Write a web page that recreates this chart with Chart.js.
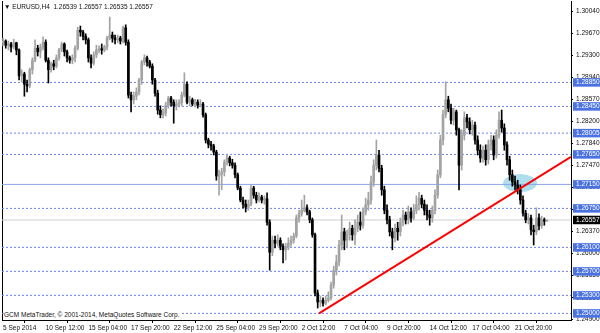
<!DOCTYPE html>
<html><head><meta charset="utf-8">
<script src="https://cdn.jsdelivr.net/npm/chart.js@4"></script>
<style>
body{margin:0;background:#fff;}
#wrap{position:relative;width:600px;height:333px;}
.txt{position:absolute;font:6.5px "Liberation Sans",Arial,sans-serif;color:#111;white-space:nowrap;line-height:8px;}
</style></head><body>
<div id="wrap">
<canvas id="c" width="600" height="333"></canvas>
<div class="txt" style="left:4px;top:3px">▼ EURUSD,H4&nbsp; 1.26539 1.26557 1.26535 1.26557</div>
<div class="txt" style="left:4px;top:311px;background:#fff;padding-right:2px">GCM MetaTrader, © 2001-2014, MetaQuotes Software Corp.</div>
</div>
<script>
// H4 bars, oldest first
const dates = ['5 Sep 2014','10 Sep 12:00','15 Sep 04:00','17 Sep 20:00','22 Sep 12:00','25 Sep 04:00','29 Sep 20:00','2 Oct 12:00','7 Oct 04:00','9 Oct 20:00','14 Oct 12:00','17 Oct 04:00','21 Oct 20:00'];
const dateBars = [0,16,32,48,64,80,96,112,128,144,160,176,192];

const opens = [
1.2951,1.2954,1.2947,1.2949,1.2944,1.2951,1.2939,1.2896,1.2899,1.2882,
1.2879,1.2906,1.2922,1.2942,1.2936,1.2944,1.2952,1.2922,1.2906,1.2916,
1.2912,1.2926,1.2939,1.2949,1.2936,1.2926,1.2922,1.2926,1.2942,1.2972,
1.2969,1.2962,1.2956,1.2926,1.2917,1.2931,1.2939,1.2941,1.2939,1.2944,
1.2959,1.2964,1.2959,1.2956,1.2959,1.2954,1.2976,1.2952,1.2864,1.2856,
1.2862,1.2869,1.2889,1.2919,1.2926,1.2919,1.2912,1.2889,1.2867,1.2839,
1.2831,1.2834,1.2847,1.2859,1.2852,1.2846,1.2849,1.2851,1.2864,1.2882,
1.2852,1.2856,1.2849,1.2852,1.2847,1.2849,1.2831,1.2789,1.2782,1.2779,
1.2769,1.2729,1.2732,1.2736,1.2752,1.2759,1.2751,1.2747,1.2731,1.2709,
1.2689,1.2682,1.2677,1.2682,1.2709,1.2697,1.2689,1.2694,1.2689,1.2691,
1.2652,1.2602,1.2622,1.2617,1.2622,1.2612,1.2606,1.2611,1.2617,1.2622,
1.2629,1.2659,1.2666,1.2672,1.2676,1.2669,1.2656,1.2631,1.2534,1.2519,
1.2522,1.2517,1.2522,1.2526,1.2547,1.2572,1.2586,1.2614,1.2636,1.2622,
1.2631,1.2642,1.2631,1.2642,1.2652,1.2647,1.2669,1.2681,1.2689,1.2719,
1.2747,1.2764,1.2742,1.2706,1.2672,1.2656,1.2636,1.2626,1.2642,1.2636,
1.2652,1.2664,1.2656,1.2669,1.2659,1.2672,1.2681,1.2692,1.2682,1.2672,
1.2664,1.2659,1.2672,1.2697,1.2731,1.2789,1.2831,1.2856,1.2842,1.2822,
1.2836,1.2806,1.2747,1.2797,1.2826,1.2819,1.2806,1.2814,1.2789,1.2772,
1.2759,1.2772,1.2756,1.2781,1.2789,1.2764,1.2797,1.2822,1.2809,1.2781,
1.2756,1.2731,1.2719,1.2714,1.2706,1.2689,1.2667,1.2656,1.2659,1.2639,
1.2636,1.2659,1.2646,1.2656,1.26539];
const highs = [
1.2959,1.2956,1.2954,1.2952,1.2957,1.2952,1.2941,1.2906,1.2902,1.2889,
1.2909,1.2926,1.2956,1.2947,1.2949,1.2961,1.2956,1.2926,1.2919,1.2922,
1.2931,1.2942,1.2952,1.2951,1.2939,1.2929,1.2931,1.2946,1.2977,1.2979,
1.2972,1.2966,1.2959,1.2931,1.2936,1.2947,1.2946,1.2949,1.2947,1.2962,
1.2994,1.2969,1.2964,1.2964,1.2962,1.2979,1.2981,1.2956,1.2869,1.2869,
1.2876,1.2892,1.2922,1.2931,1.2929,1.2922,1.2916,1.2892,1.2872,1.2846,
1.2841,1.2852,1.2862,1.2862,1.2856,1.2856,1.2856,1.2869,1.2901,1.2886,
1.2862,1.2859,1.2857,1.2856,1.2856,1.2852,1.2834,1.2792,1.2787,1.2782,
1.2772,1.2739,1.2742,1.2756,1.2764,1.2762,1.2757,1.2751,1.2734,1.2712,
1.2694,1.2689,1.2689,1.2714,1.2712,1.2702,1.2701,1.2697,1.2696,1.2701,
1.2656,1.2629,1.2629,1.2631,1.2626,1.2616,1.2617,1.2626,1.2629,1.2634,
1.2664,1.2672,1.2689,1.2697,1.2681,1.2672,1.2659,1.2634,1.2539,1.2529,
1.2526,1.2529,1.2536,1.2552,1.2579,1.2597,1.2622,1.2664,1.2642,1.2639,
1.2652,1.2647,1.2656,1.2664,1.2669,1.2676,1.2692,1.2702,1.2729,1.2756,
1.2789,1.2772,1.2747,1.2712,1.2681,1.2662,1.2642,1.2649,1.2652,1.2659,
1.2672,1.2669,1.2679,1.2676,1.2682,1.2696,1.2702,1.2697,1.2689,1.2681,
1.2672,1.2679,1.2706,1.2739,1.2797,1.2839,1.2886,1.2862,1.2849,1.2842,
1.2839,1.2809,1.2806,1.2836,1.2832,1.2826,1.2822,1.2819,1.2796,1.2781,
1.2779,1.2781,1.2789,1.2797,1.2796,1.2806,1.2836,1.2839,1.2816,1.2786,
1.2762,1.2739,1.2729,1.2722,1.2714,1.2696,1.2672,1.2666,1.2664,1.2647,
1.2676,1.2666,1.2662,1.2659,1.26557];
const lows = [
1.2946,1.2942,1.2939,1.2936,1.2941,1.2931,1.2889,1.2886,1.2862,1.2869,
1.2876,1.2899,1.2919,1.2929,1.2926,1.2939,1.2919,1.2884,1.2902,1.2906,
1.2909,1.2922,1.2936,1.2929,1.2919,1.2917,1.2916,1.2919,1.2939,1.2962,
1.2956,1.2949,1.2919,1.2909,1.2914,1.2926,1.2934,1.2932,1.2936,1.2939,
1.2956,1.2952,1.2949,1.2951,1.2949,1.2951,1.2947,1.2859,1.2836,1.2849,
1.2856,1.2864,1.2882,1.2914,1.2912,1.2909,1.2882,1.2862,1.2832,1.2826,
1.2826,1.2829,1.2842,1.2846,1.2817,1.2839,1.2844,1.2846,1.2861,1.2849,
1.2846,1.2846,1.2844,1.2842,1.2844,1.2827,1.2784,1.2776,1.2772,1.2764,
1.2722,1.2697,1.2706,1.2729,1.2747,1.2746,1.2742,1.2726,1.2706,1.2686,
1.2676,1.2669,1.2672,1.2679,1.2692,1.2684,1.2686,1.2684,1.2682,1.2647,
1.2572,1.2596,1.2609,1.2612,1.2606,1.2584,1.2589,1.2606,1.2612,1.2617,
1.2626,1.2652,1.2662,1.2669,1.2664,1.2651,1.2627,1.2529,1.2509,1.2511,
1.2512,1.2514,1.2519,1.2522,1.2542,1.2564,1.2579,1.2606,1.2606,1.2609,
1.2622,1.2622,1.2614,1.2636,1.2639,1.2642,1.2664,1.2672,1.2682,1.2712,
1.2739,1.2736,1.2697,1.2666,1.2649,1.2629,1.2606,1.2619,1.2622,1.2629,
1.2646,1.2649,1.2649,1.2652,1.2656,1.2666,1.2672,1.2676,1.2664,1.2656,
1.2647,1.2652,1.2666,1.2692,1.2726,1.2781,1.2826,1.2836,1.2816,1.2814,
1.2797,1.2706,1.2739,1.2789,1.2809,1.2799,1.2797,1.2782,1.2764,1.2752,
1.2752,1.2747,1.2749,1.2772,1.2756,1.2759,1.2792,1.2802,1.2772,1.2747,
1.2722,1.2712,1.2706,1.2699,1.2682,1.2662,1.2651,1.2649,1.2631,1.2614,
1.2631,1.2639,1.2642,1.2647,1.26535];
const closes = [
1.2954,1.2947,1.2949,1.2944,1.2951,1.2939,1.2896,1.2899,1.2882,1.2879,
1.2906,1.2922,1.2942,1.2936,1.2944,1.2952,1.2922,1.2906,1.2916,1.2912,
1.2926,1.2939,1.2949,1.2936,1.2926,1.2922,1.2926,1.2942,1.2972,1.2969,
1.2962,1.2956,1.2926,1.2917,1.2931,1.2939,1.2941,1.2939,1.2944,1.2959,
1.2964,1.2959,1.2956,1.2959,1.2954,1.2976,1.2952,1.2864,1.2856,1.2862,
1.2869,1.2889,1.2919,1.2926,1.2919,1.2912,1.2889,1.2867,1.2839,1.2831,
1.2834,1.2847,1.2859,1.2852,1.2846,1.2849,1.2851,1.2864,1.2882,1.2852,
1.2856,1.2849,1.2852,1.2847,1.2849,1.2831,1.2789,1.2782,1.2779,1.2769,
1.2729,1.2732,1.2736,1.2752,1.2759,1.2751,1.2747,1.2731,1.2709,1.2689,
1.2682,1.2677,1.2682,1.2709,1.2697,1.2689,1.2694,1.2689,1.2691,1.2652,
1.2602,1.2622,1.2617,1.2622,1.2612,1.2606,1.2611,1.2617,1.2622,1.2629,
1.2659,1.2666,1.2672,1.2676,1.2669,1.2656,1.2631,1.2534,1.2519,1.2522,
1.2517,1.2522,1.2526,1.2547,1.2572,1.2586,1.2614,1.2636,1.2622,1.2631,
1.2642,1.2631,1.2642,1.2652,1.2647,1.2669,1.2681,1.2689,1.2719,1.2747,
1.2764,1.2742,1.2706,1.2672,1.2656,1.2636,1.2626,1.2642,1.2636,1.2652,
1.2664,1.2656,1.2669,1.2659,1.2672,1.2681,1.2692,1.2682,1.2672,1.2664,
1.2659,1.2672,1.2697,1.2731,1.2789,1.2831,1.2856,1.2842,1.2822,1.2836,
1.2806,1.2747,1.2797,1.2826,1.2819,1.2806,1.2814,1.2789,1.2772,1.2759,
1.2772,1.2756,1.2781,1.2789,1.2764,1.2797,1.2822,1.2809,1.2781,1.2756,
1.2731,1.2719,1.2714,1.2706,1.2689,1.2667,1.2656,1.2659,1.2639,1.2636,
1.2659,1.2646,1.2656,1.26539,1.26557];

const priceTicks = [1.30040,1.29670,1.29300,1.28940,1.28570,1.28200,1.27840,1.27470,1.27100,1.26740,1.26370,1.26000,1.25630,1.25260,1.24900];
const dashedLevels = [1.28850,1.28450,1.28005,1.27650,1.26750,1.26100,1.25700,1.25300,1.25000];
const solidLevel = 1.27150;
const lastPrice = 1.26557;
const trendBars = [118.5, 213];
const trendPrices = [1.2500, 1.2761];
const markBar = 193.9, markPrice = 1.27173;

const FONT = 'Liberation Sans, Arial, sans-serif';
const UP = '#a3a3a3', DOWN = '#000000';
const X_MIN = -0.4, X_MAX = 213;

const bars = closes.map((_, i) => i);
const candleColor = bars.map(i => closes[i] >= opens[i] ? UP : DOWN);
const hLine = v => [{x: X_MIN, y: v}, {x: X_MAX, y: v}];

const levelSets = dashedLevels.map(v => ({
  type:'line', data:hLine(v), borderColor:'#6c86e6', borderWidth:1, borderDash:[2,2],
  pointRadius:0, order:3
}));

const markPlugin = {
  id:'mark',
  beforeDatasetsDraw(chart){
    const {ctx, scales:{x, y}} = chart;
    ctx.save();
    ctx.fillStyle = 'rgba(110,195,222,0.55)';
    ctx.beginPath();
    ctx.ellipse(x.getPixelForValue(markBar), y.getPixelForValue(markPrice), 17, 9, 0, 0, Math.PI*2);
    ctx.fill();
    ctx.restore();
  }
};

new Chart(document.getElementById('c'), {
  data:{ datasets:[
    { type:'line', data:trendBars.map((b, i) => ({x:b, y:trendPrices[i]})),
      borderColor:'#ff0000', borderWidth:2, pointRadius:0, order:0 },
    { type:'bar', data:bars.map(i => ({x:i, y:[opens[i], closes[i]]})),
      backgroundColor:candleColor, barThickness:2, minBarLength:1, grouped:false, order:1 },
    { type:'bar', data:bars.map(i => ({x:i, y:[lows[i], highs[i]]})),
      backgroundColor:candleColor, barThickness:1, grouped:false, order:2 },
    ...levelSets,
    { type:'line', data:hLine(solidLevel), borderColor:'#8aa5ee', borderWidth:1, pointRadius:0, order:3 },
    { type:'line', data:hLine(lastPrice), borderColor:'#cfcfcf', borderWidth:1, pointRadius:0, order:4 }
  ]},
  options:{
    responsive:false, animation:false, devicePixelRatio:1,
    layout:{ padding:{ left:2, top:1, right:0, bottom:0 }, autoPadding:false },
    plugins:{ legend:{display:false}, tooltip:{enabled:false} },
    scales:{
      x:{ type:'linear', min:X_MIN, max:X_MAX, position:'bottom', offset:false,
        afterBuildTicks: s => { s.ticks = dateBars.map(v => ({value:v})); },
        afterFit: s => { s.height = 13; s.paddingLeft = 0; s.paddingRight = 0; },
        ticks:{ autoSkip:false, maxRotation:0, align:'start', padding:1,
          font:{family:FONT, size:6.5}, color:'#111', callback:(v, i) => dates[i] },
        grid:{ drawOnChartArea:false, tickLength:3, tickColor:'#000' },
        border:{ color:'#000', width:1 } },
      y:{ type:'linear', position:'right', min:1.2489, max:1.30207,
        afterBuildTicks: s => {
          s.ticks = [
            ...priceTicks.map(v => ({value:v, kind:'grid'})),
            ...dashedLevels.concat([solidLevel]).map(v => ({value:v, kind:'level'})),
            {value:lastPrice, kind:'price'}
          ];
        },
        afterFit: s => { s.width = 29; s.paddingTop = 0; s.paddingBottom = 0; },
        ticks:{ autoSkip:false, padding:3, font:{family:FONT, size:6.5, lineHeight:1},
          color: c => c.tick && c.tick.kind !== 'grid' ? '#fff' : '#111',
          showLabelBackdrop: c => !!(c.tick && c.tick.kind !== 'grid'),
          backdropColor: c => c.tick && c.tick.kind === 'price' ? '#000' : '#4a72e0',
          backdropPadding:{top:1, bottom:1, left:3, right:8},
          callback: v => v.toFixed(5) },
        grid:{ drawOnChartArea:false, tickLength:2,
          tickColor: c => c.tick && c.tick.kind === 'grid' ? '#000' : 'rgba(0,0,0,0)' },
        border:{ color:'#000', width:1 } },
      yl:{ type:'linear', position:'left', display:true,
        ticks:{display:false}, grid:{display:false}, border:{color:'#000', width:1},
        afterFit: s => { s.width = 0; s.paddingTop = 0; s.paddingBottom = 0; } }
    }
  },
  plugins:[markPlugin]
});
</script>
</body></html>
